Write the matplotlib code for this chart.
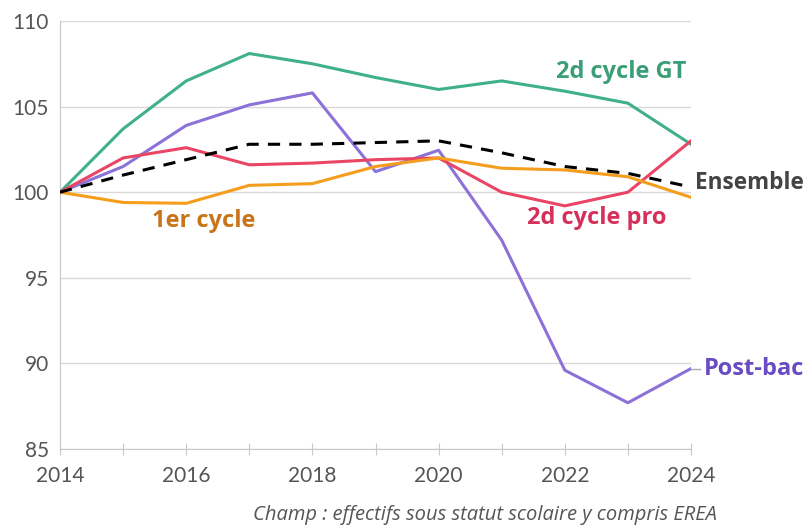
import matplotlib
matplotlib.use('Agg')
from matplotlib import pyplot as plt

years = [2014, 2015, 2016, 2017, 2018, 2019, 2020, 2021, 2022, 2023, 2024]

cycle_gt = [100, 103.7, 106.5, 108.1, 107.5, 106.7, 106.0, 106.5, 105.9, 105.2, 102.8]
post_bac = [100, 101.5, 103.9, 105.1, 105.8, 101.2, 102.45, 97.2, 89.6, 87.7, 89.7]
ensemble = [100, 101.0, 101.9, 102.8, 102.8, 102.9, 103.0, 102.3, 101.5, 101.1, 100.3]
cycle_pro = [100, 102.0, 102.6, 101.6, 101.7, 101.9, 102.0, 100.0, 99.2, 100.0, 103.0]
premier_cycle = [100, 99.4, 99.35, 100.4, 100.5, 101.5, 102.0, 101.4, 101.3, 100.9, 99.7]

yticks = [85, 90, 95, 100, 105, 110]
xticks = [2014, 2016, 2018, 2020, 2022, 2024]

plt.rcParams['font.family'] = ['Lato', 'DejaVu Sans']
lab_font = ['Open Sans', 'DejaVu Sans']

fig = plt.figure(figsize=(8.08, 5.26), dpi=100)
ax = fig.add_axes([60/808, 1 - 449/526, (691-60)/808, (449-21)/526])

ax.plot(years, cycle_gt, color='#3fb08a', lw=2.2, zorder=3)
ax.plot(years, post_bac, color='#8c72d8', lw=2.2, zorder=3)
ax.plot(years, cycle_pro, color='#ea4565', lw=2.2, zorder=3)
ax.plot(years, premier_cycle, color='#f59d1c', lw=2.2, zorder=3)
ax.plot(years, ensemble, color='black', lw=2.2, ls=(0, (4, 3)), zorder=4)

ax.set_xlim(2014, 2024)
ax.set_ylim(85, 110)
ax.set_yticks(yticks)
ax.set_xticks(years)
ax.set_xticklabels([str(y) if y in xticks else '' for y in years])
ax.grid(axis='y', color='#d9d9d9', lw=1)
ax.set_axisbelow(True)
for s in ['top', 'right']:
    ax.spines[s].set_visible(False)
ax.spines['left'].set_color('#c8c8c8')
ax.spines['bottom'].set_color('#c8c8c8')
ax.tick_params(axis='y', length=0, pad=8, labelsize=15, labelcolor='#555555')
ax.tick_params(axis='x', direction='inout', length=9, color='#c8c8c8', pad=8,
               labelsize=15, labelcolor='#555555')

# series labels
ax.text(2022.9, 107.0, '2d cycle GT', color='#3a9e78', fontsize=17, fontweight='bold',
        family=lab_font, ha='center', va='center', clip_on=False)
ax.text(2024.07, 100.55, 'Ensemble', color='#444444', fontsize=16.3, fontweight='bold',
        family=lab_font, ha='left', va='center', clip_on=False)
ax.text(2022.5, 98.5, '2d cycle pro', color='#d6305a', fontsize=17, fontweight='bold',
        family=lab_font, ha='center', va='center')
ax.text(2016.27, 98.3, '1er cycle', color='#c97418', fontsize=17, fontweight='bold',
        family=lab_font, ha='center', va='center')
ax.text(2024.2, 89.7, 'Post-bac', color='#6a4cc2', fontsize=17, fontweight='bold',
        family=lab_font, ha='left', va='center', clip_on=False)
ax.plot([2024, 2024.15], [89.7, 89.7], color='#aaaaaa', lw=1, clip_on=False)

fig.text(717/808, 1 - 515/526, 'Champ : effectifs sous statut scolaire y compris EREA',
         color='#555555', fontsize=14.5, style='italic', family=lab_font, ha='right', va='center')

fig.savefig('out.png', dpi=100)
